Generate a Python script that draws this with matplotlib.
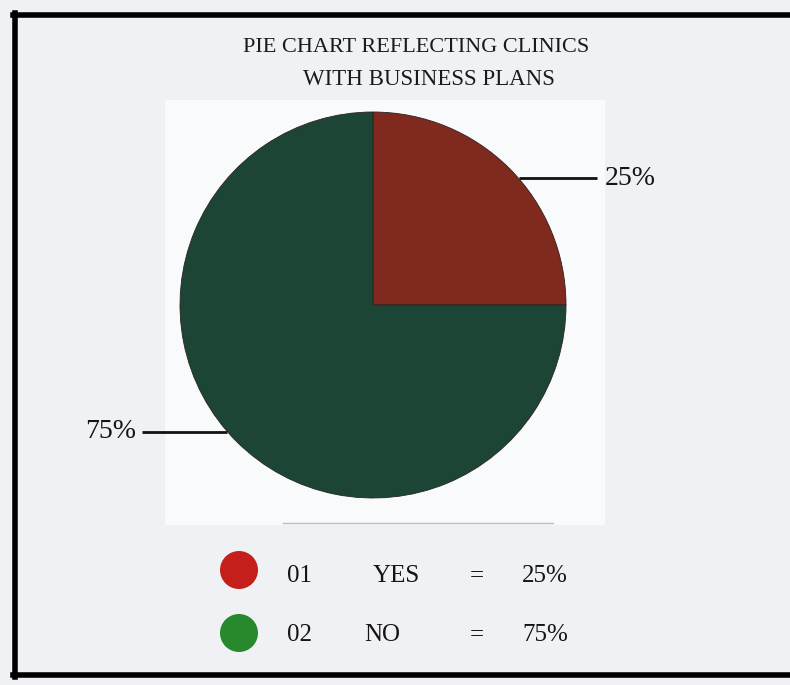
import numpy as np
import matplotlib.pyplot as plt
from matplotlib.patches import Rectangle, Circle

# data
labels = ['YES', 'NO']
codes = ['01', '02']
values = [25, 75]
slice_colors = ['#80291f', '#1c4535']
dot_colors = ['#c41f1a', '#27892c']

W, H = 790, 685
plt.rcParams['font.family'] = ['Liberation Serif', 'DejaVu Serif']

fig = plt.figure(figsize=(W / 100, H / 100), dpi=100)
fig.patch.set_facecolor('#f0f1f4')
ax = fig.add_axes([0, 0, 1, 1])
ax.set_facecolor('#f0f1f4')

# lighter patch behind the pie (scan look)
ax.add_patch(Rectangle((165, H - 525), 440, 425, facecolor='#f9fafb', edgecolor='none', zorder=0))

# pie
cx, cy, r = 373, H - 305, 193
wedges, _ = ax.pie(values, colors=slice_colors, startangle=90, counterclock=False,
                   center=(cx, cy), radius=r, frame=True,
                   wedgeprops=dict(edgecolor='#2b2420', linewidth=0.6))

# leader lines + percentage labels near slice midpoints
for w, v in zip(wedges, values):
    mid = np.deg2rad((w.theta1 + w.theta2) / 2 - 4)
    px = cx + r * np.cos(mid)
    py = cy + r * np.sin(mid)
    if np.cos(mid) > 0:
        ax.plot([px, px + 78], [py, py], color='#111111', lw=2, solid_capstyle='butt')
        ax.text(px + 86, py, f'{v}%', fontsize=20, ha='left', va='center', color='#151515')
    else:
        ax.plot([px, px - 85], [py, py], color='#111111', lw=2, solid_capstyle='butt')
        ax.text(px - 91, py, f'{v}%', fontsize=20, ha='right', va='center', color='#151515')

# title
ax.text(416, H - 47, 'PIE CHART REFLECTING CLINICS', fontsize=16, ha='center', va='center', color='#1a1a1a')
ax.text(429, H - 79, 'WITH BUSINESS PLANS', fontsize=16.5, ha='center', va='center', color='#1a1a1a')

# legend
rows = [570, 633]
for i, y in enumerate(rows):
    ax.add_patch(Circle((239, H - y), 19, facecolor=dot_colors[i], edgecolor='none'))
    ty = H - y - 6 if i == 0 else H - y - 2
    ax.text(287, ty, codes[i], fontsize=18, ha='left', va='center', color='#151515')
    ax.text(396 if i == 0 else 382, ty, labels[i], fontsize=18, ha='center', va='center', color='#151515')
    ax.text(477, ty, '=', fontsize=18, ha='center', va='center', color='#151515')
    ax.text(522, ty, f'{values[i]}%', fontsize=18, ha='left', va='center', color='#151515')

# faint scan line under the pie
ax.plot([283, 553], [H - 523, H - 523], color='#b9bcc2', lw=1)

# frame (left, top, bottom)
ax.plot([15, 15], [H - 13, H - 677], color='black', lw=4)
ax.plot([13, W], [H - 15, H - 15], color='black', lw=4)
ax.plot([13, W], [H - 675, H - 675], color='black', lw=4)

ax.set_xlim(0, W)
ax.set_ylim(0, H)
ax.set_aspect('auto')
ax.axis('off')

fig.savefig('out.png', dpi=100, facecolor=fig.get_facecolor())
